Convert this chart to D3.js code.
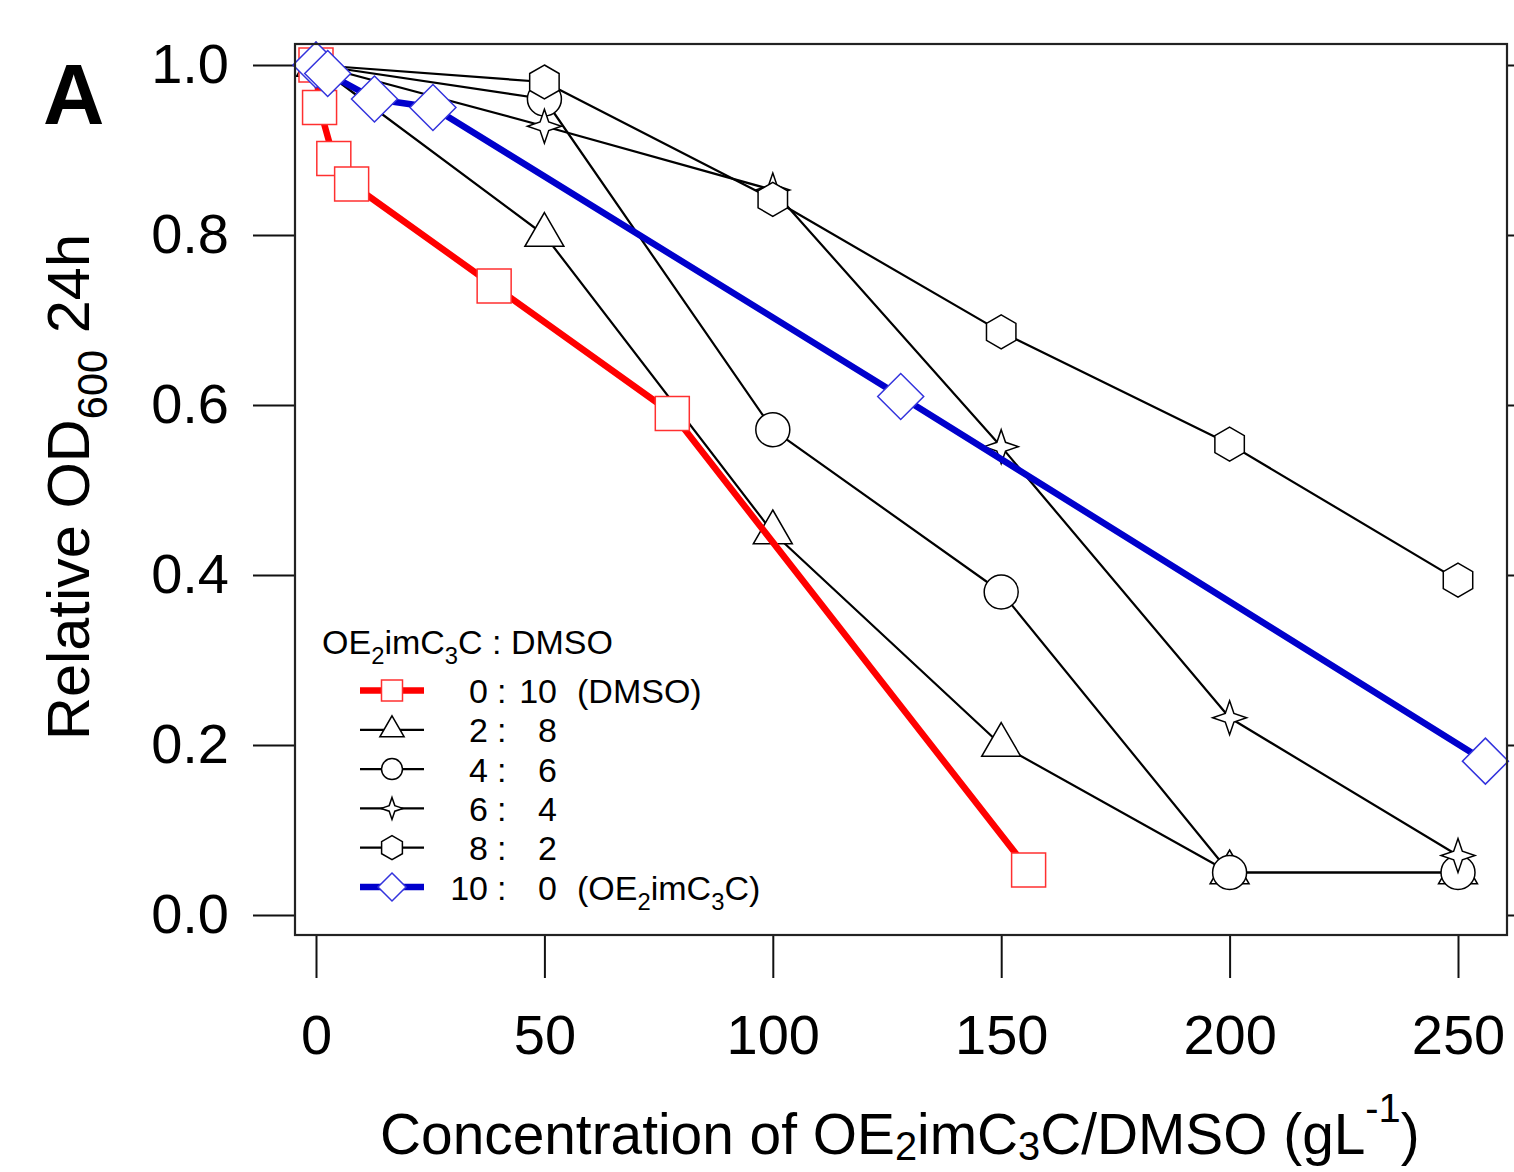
<!DOCTYPE html>
<html>
<head>
<meta charset="utf-8">
<script src="https://d3js.org/d3.v7.min.js"></script>
<style>
  body { margin: 0; background: #fff; }
  text { font-family: "Liberation Sans", Arial, sans-serif; fill: #000; }
</style>
</head>
<body>
<svg id="chart" width="1514" height="1172"></svg>
<script>
// data
var concTicks = [0, 50, 100, 150, 200, 250];
var odTicks = [0, 0.2, 0.4, 0.6, 0.8, 1.0];

var dmsoConc = [0, 0.78, 3.9, 7.8, 39, 78, 156];
var dmsoOD   = [1.0, 0.95, 0.89, 0.86, 0.74, 0.59, 0.053];

var mixConc = [0, 50, 100, 150, 200, 250];
var od28 = [1.0, 0.80, 0.45, 0.20, 0.05, 0.05];
var od46 = [1.0, 0.96, 0.571, 0.38, 0.05, 0.05];
var od64 = [1.0, 0.928, 0.853, 0.551, 0.232, 0.07];
var od82 = [1.0, 0.98, 0.842, 0.686, 0.554, 0.394];

var ilConc = [0, 2.56, 12.8, 25.6, 128, 256];
var ilOD   = [1.0, 0.99, 0.96, 0.95, 0.61, 0.181];

var ratioIL   = ["0", "2", "4", "6", "8", "10"];
var ratioDMSO = ["10", "8", "6", "4", "2", "0"];

// custom marker shapes, size = radius^2
var square = { draw: function(c, s) { var r = Math.sqrt(s); c.rect(-r, -r, 2*r, 2*r); } };
var diamond = { draw: function(c, s) { var r = Math.sqrt(s);
  c.moveTo(0, -r); c.lineTo(r, 0); c.lineTo(0, r); c.lineTo(-r, 0); c.closePath(); } };
var triangle = { draw: function(c, s) { var r = Math.sqrt(s), w = r*Math.sqrt(3)/2;
  c.moveTo(0, -r); c.lineTo(w, r/2); c.lineTo(-w, r/2); c.closePath(); } };
var circle = { draw: function(c, s) { var r = Math.sqrt(s); c.moveTo(r, 0); c.arc(0, 0, r, 0, 2*Math.PI); } };
var star4 = { draw: function(c, s) { var r = Math.sqrt(s), ri = r*0.36;
  for (var i = 0; i < 8; i++) {
    var a = -Math.PI/2 + i*Math.PI/4, rr = i % 2 ? ri : r;
    if (i == 0) c.moveTo(rr*Math.cos(a), rr*Math.sin(a)); else c.lineTo(rr*Math.cos(a), rr*Math.sin(a));
  }
  c.closePath(); } };
var hexagon = { draw: function(c, s) { var r = Math.sqrt(s);
  for (var i = 0; i < 6; i++) {
    var a = -Math.PI/2 + i*Math.PI/3;
    if (i == 0) c.moveTo(r*Math.cos(a), r*Math.sin(a)); else c.lineTo(r*Math.cos(a), r*Math.sin(a));
  }
  c.closePath(); } };

var series = [
  {xs: mixConc, ys: od28, shape: triangle, r: 22.5, lr: 14, color: "#000", mstroke: "#000", lw: 2.2},
  {xs: mixConc, ys: od46, shape: circle, r: 17, lr: 10.5, color: "#000", mstroke: "#000", lw: 2.2},
  {xs: mixConc, ys: od64, shape: star4, r: 17, lr: 11, color: "#000", mstroke: "#000", lw: 2.2},
  {xs: mixConc, ys: od82, shape: hexagon, r: 17, lr: 12, color: "#000", mstroke: "#000", lw: 2.2},
  {xs: dmsoConc, ys: dmsoOD, shape: square, r: 17, lr: 10.5, color: "#ff0000", mstroke: "#ff3030", lw: 6.5},
  {xs: ilConc, ys: ilOD, shape: diamond, r: 23, lr: 14, color: "#0000cc", mstroke: "#3333dd", lw: 6.5}
];
// legend order follows ratio order
var legendOrder = [4, 0, 1, 2, 3, 5];

var svg = d3.select("#chart");
var x = d3.scaleLinear().domain([0, 250]).range([316, 1458]);
var y = d3.scaleLinear().domain([0, 1]).range([915, 65]);
var plotLeft = 295, plotRight = 1507, plotTop = 44, plotBottom = 935;

// rich text helper: sub / sup shifts
function rich(sel, parts, size, subShift) {
  var sd = subShift || 0.3;
  parts.forEach(function(p) {
    var t = sel.append("tspan").text(p[0]);
    if (p[1] == "sub") t.attr("font-size", size*0.7).attr("dy", size*sd);
    if (p[1] == "sup") t.attr("font-size", size*0.7).attr("dy", -size*0.55);
    if (p[1] == "back") t.attr("dy", -size*sd);
    if (p[1] == "down") t.attr("dy", size*0.55);
  });
}

// axes
svg.append("g")
  .attr("transform", "translate(" + plotLeft + ",0)")
  .call(d3.axisLeft(y).tickValues(odTicks).tickSize(42).tickPadding(24).tickFormat(d3.format(".1f")))
  .call(function(g) { g.select(".domain").remove(); })
  .call(function(g) { g.selectAll("line").attr("stroke", "#111").attr("stroke-width", 2); })
  .call(function(g) { g.selectAll("text").attr("font-size", 56).attr("font-family", "Liberation Sans, Arial, sans-serif"); });

svg.append("g")
  .attr("transform", "translate(" + plotRight + ",0)")
  .call(d3.axisRight(y).tickValues(odTicks).tickSize(10).tickFormat(""))
  .call(function(g) { g.select(".domain").remove(); })
  .call(function(g) { g.selectAll("line").attr("stroke", "#111").attr("stroke-width", 2); });

svg.append("g")
  .attr("transform", "translate(0," + plotBottom + ")")
  .call(d3.axisBottom(x).tickValues(concTicks).tickSize(43).tickPadding(36))
  .call(function(g) { g.select(".domain").remove(); })
  .call(function(g) { g.selectAll("line").attr("stroke", "#111").attr("stroke-width", 2); })
  .call(function(g) { g.selectAll("text").attr("font-size", 56).attr("font-family", "Liberation Sans, Arial, sans-serif"); });

// data
var line = d3.line();
series.forEach(function(s) {
  var pts = s.xs.map(function(v, i) { return [x(v), y(s.ys[i])]; });
  svg.append("path")
    .attr("d", line(pts))
    .attr("fill", "none")
    .attr("stroke", s.color)
    .attr("stroke-width", s.lw)
    .attr("stroke-linejoin", "round");
  svg.append("g").selectAll("path")
    .data(pts)
    .enter().append("path")
    .attr("transform", function(d) { return "translate(" + d[0] + "," + d[1] + ")"; })
    .attr("d", d3.symbol().type(s.shape).size(s.r * s.r))
    .attr("fill", "#fff")
    .attr("stroke", s.mstroke)
    .attr("stroke-width", 1.5);
});

// frame
svg.append("rect")
  .attr("x", plotLeft).attr("y", plotTop)
  .attr("width", plotRight - plotLeft).attr("height", plotBottom - plotTop)
  .attr("fill", "none").attr("stroke", "#222").attr("stroke-width", 2.2);

// legend
var fs = 34;
var lg = svg.append("g");
var lt = lg.append("text").attr("x", 322).attr("y", 654).attr("font-size", fs);
rich(lt, [["OE"], ["2", "sub"], ["imC", "back"], ["3", "sub"], ["C : DMSO", "back"]], fs);

legendOrder.forEach(function(k, i) {
  var s = series[k];
  var cy = 690.5 + i * 39.3;
  lg.append("line").attr("x1", 360).attr("x2", 424).attr("y1", cy).attr("y2", cy)
    .attr("stroke", s.color).attr("stroke-width", s.lw);
  lg.append("path")
    .attr("transform", "translate(392," + cy + ")")
    .attr("d", d3.symbol().type(s.shape).size(s.lr * s.lr))
    .attr("fill", "#fff").attr("stroke", s.mstroke).attr("stroke-width", 1.5);
  var base = cy + 12.5;
  lg.append("text").attr("x", 488).attr("y", base).attr("font-size", fs)
    .attr("text-anchor", "end").text(ratioIL[i]);
  lg.append("text").attr("x", 497).attr("y", base).attr("font-size", fs).text(":");
  lg.append("text").attr("x", 557).attr("y", base).attr("font-size", fs)
    .attr("text-anchor", "end").text(ratioDMSO[i]);
  if (i == 0) lg.append("text").attr("x", 577).attr("y", base).attr("font-size", fs).text("(DMSO)");
  if (i == 5) {
    var t = lg.append("text").attr("x", 577).attr("y", base).attr("font-size", fs);
    rich(t, [["(OE"], ["2", "sub"], ["imC", "back"], ["3", "sub"], ["C)", "back"]], fs);
  }
});

// panel letter
svg.append("text").attr("x", 43).attr("y", 124)
  .attr("font-size", 85).attr("font-weight", "bold").text("A");

// y title
var yt = svg.append("text")
  .attr("transform", "translate(89,740) rotate(-90)")
  .attr("font-size", 59.5);
rich(yt, [["Relative OD"], ["600", "sub"], [" 24h", "back"]], 59.5);

// x title
var xt = svg.append("text").attr("font-size", 58);
rich(xt, [["Concentration of OE"], ["2", "sub"], ["imC", "back"], ["3", "sub"],
          ["C/DMSO (gL", "back"], ["-1", "sup"], [")", "down"]], 58, 0.1);
var w = xt.node().getComputedTextLength();
xt.attr("transform", "translate(380,1154) scale(" + (1040 / w) + ",1)");
</script>
</body>
</html>
